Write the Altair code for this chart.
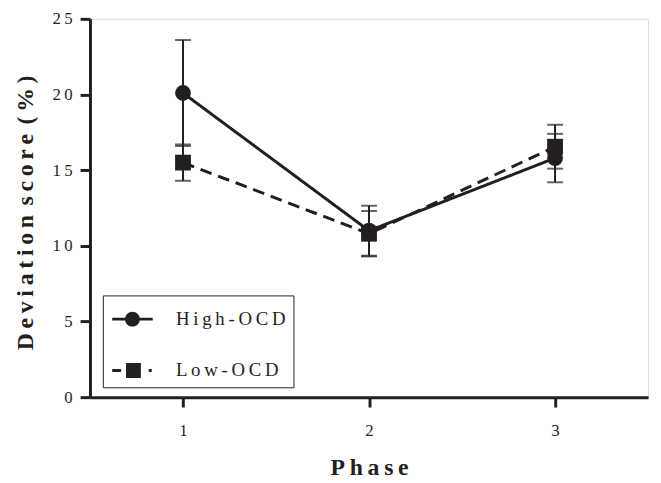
import altair as alt
import pandas as pd

phase = [1, 2, 3]
groups = ["High-OCD", "Low-OCD"]
high_mean = [20.1, 11.0, 15.8]
high_err = [3.5, 1.65, 1.6]
low_mean = [15.5, 10.8, 16.55]
low_err = [1.2, 1.5, 1.45]

rows = []
for g, means, errs in [(groups[0], high_mean, high_err), (groups[1], low_mean, low_err)]:
    for p, m, e in zip(phase, means, errs):
        rows.append({"phase": p, "group": g, "mean": m, "lower": m - e, "upper": m + e})
df = pd.DataFrame(rows)

INK = "#231f20"
FONT = "'Liberation Serif', 'Times New Roman', serif"
TS = "\u2009"


def spaced(words):
    return (TS * 2).join(TS.join(w) for w in words)


PATH_HIGH = "M-2.05,-0.15H2.05V0.15H-2.05Z M0.75,0A0.75,0.75 0 1,1 -0.75,0A0.75,0.75 0 1,1 0.75,0Z"
PATH_LOW = "M-2.05,-0.15H-1.15V0.15H-2.05Z M-0.65,-0.75H0.85V0.75H-0.65Z M1.65,-0.15H1.95V0.15H1.65Z"

x_enc = alt.X(
    "phase:Q",
    scale=alt.Scale(domain=[0.5, 3.5], nice=False, zero=False),
    axis=alt.Axis(
        values=[1, 2, 3], format="d", title=spaced(["Phase"]),
        titleFont=FONT, titleFontSize=24, titleFontWeight="bold", titleColor=INK,
        titleY=78, titleBaseline="alphabetic",
        labelFont=FONT, labelFontSize=17, labelColor=INK, labelPadding=16,
        tickSize=10, tickWidth=3, tickColor=INK,
        domainWidth=3, domainColor=INK, grid=False,
    ),
)
y_axis = alt.Axis(
    values=[0, 5, 10, 15, 20, 25],
    title=spaced(["Deviation", "score", "(%)"]),
    titleFont=FONT, titleFontSize=24, titleFontWeight="bold", titleColor=INK,
    titleX=-65, titleY=196, titleBaseline="middle", titleAlign="center", titleAngle=270,
    labelFont=FONT, labelFontSize=17, labelColor=INK, labelPadding=8,
    labelExpr=f"join(split(datum.label, ''), '{TS}')",
    tickSize=10, tickWidth=3, tickColor=INK,
    domainWidth=3, domainColor=INK, grid=False,
)
y_scale = alt.Scale(domain=[0, 25], nice=False)

base = alt.Chart(df)

lines = base.mark_line(strokeWidth=3, color=INK).encode(
    x=x_enc,
    y=alt.Y("mean:Q", scale=y_scale, axis=y_axis),
    strokeDash=alt.StrokeDash(
        "group:N", scale=alt.Scale(domain=groups, range=[[1, 0], [12, 7]]), legend=None
    ),
    detail="group:N",
)

rules = base.mark_rule(strokeWidth=2, color=INK).encode(
    x="phase:Q", y="lower:Q", y2="upper:Q"
)

caps = base.transform_fold(["lower", "upper"], as_=["end", "val"]).mark_tick(
    orient="horizontal", size=16, thickness=2, color=INK
).encode(x="phase:Q", y="val:Q")

points = base.mark_point(filled=True, size=256, opacity=1, color=INK).encode(
    x="phase:Q",
    y="mean:Q",
    shape=alt.Shape(
        "group:N",
        scale=alt.Scale(domain=groups, range=["circle", "square"]),
        legend=None,
    ),
)

legend_layer = base.transform_filter("false").transform_calculate(
    key="datum.group"
).mark_point(filled=True, color=INK).encode(
    x="phase:Q",
    y="mean:Q",
    shape=alt.Shape(
        "key:N",
        scale=alt.Scale(domain=groups, range=[PATH_HIGH, PATH_LOW]),
        legend=alt.Legend(
            title="\u00a0", titleFontSize=5, titlePadding=2,
            orient="none", legendX=13, legendY=280,
            strokeColor=INK, padding=7, symbolSize=400, rowPadding=32,
            symbolOffset=13,
            symbolFillColor=INK, symbolStrokeWidth=0, symbolOpacity=1,
            labelFont=FONT, labelFontSize=19, labelColor=INK, labelOffset=34,
            labelExpr=f"join(split(datum.label, ''), '{TS}')",
        ),
    ),
)

chart = (
    alt.layer(lines, rules, caps, points, legend_layer)
    .resolve_scale(shape="independent")
    .properties(
        width=565, height=383,
        autosize=alt.AutoSizeParams(type="none"),
        padding={"left": 83, "top": 8, "right": 5, "bottom": 91},
    )
    .configure_view(stroke=None)
    .configure_legend(strokeWidth=2)
    .configure(background="white")
)

chart.save("out.html", embed_options={"renderer": "svg", "actions": False})
